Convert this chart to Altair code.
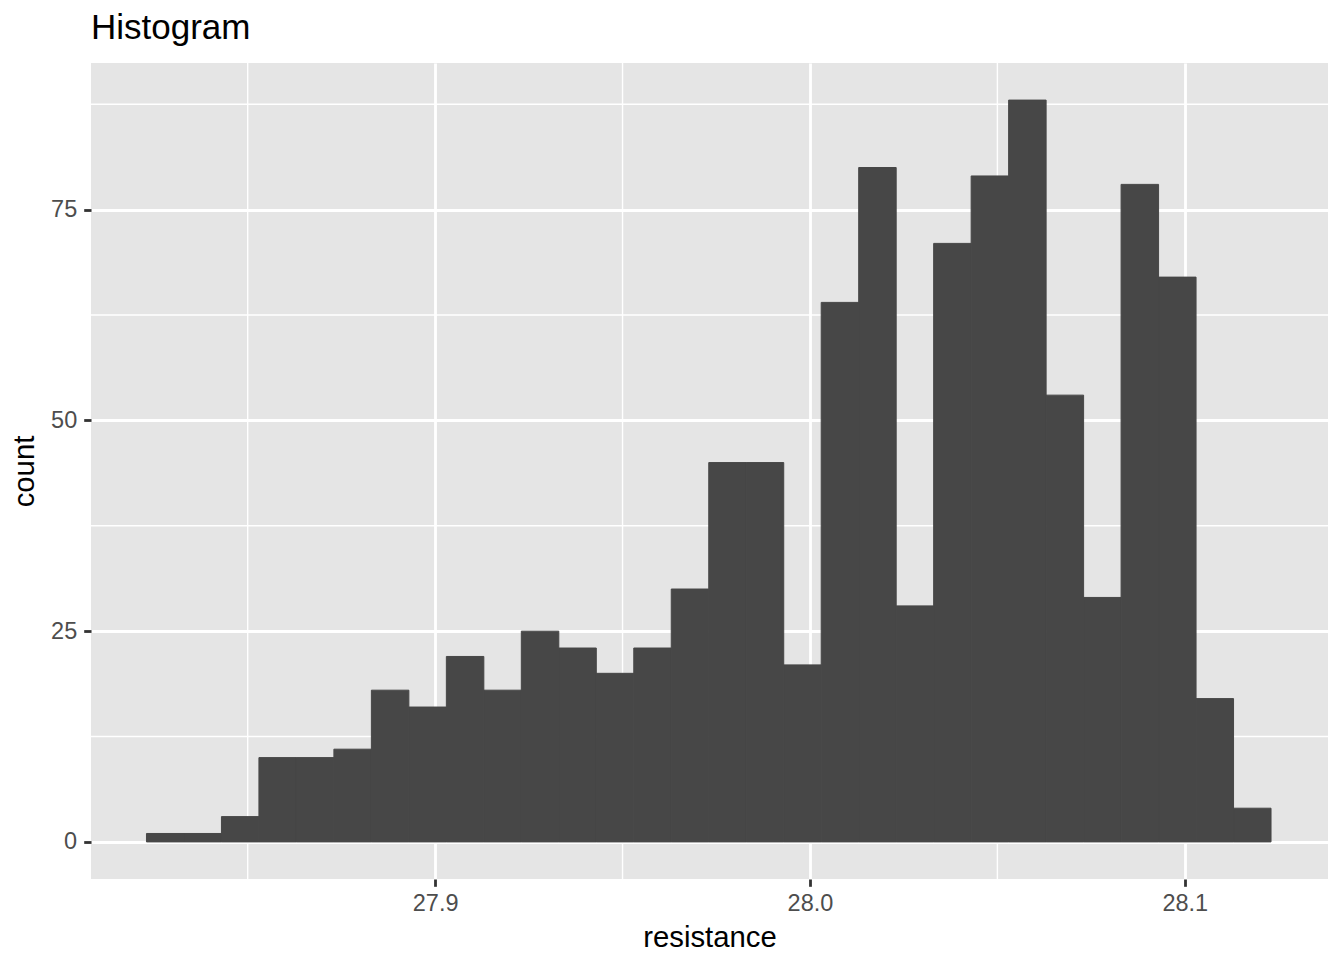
import altair as alt
import pandas as pd

# Histogram bins (left edges) and counts
bin_lo = [27.823, 27.833, 27.843, 27.853, 27.863, 27.873, 27.883, 27.893, 27.903, 27.913,
          27.923, 27.933, 27.943, 27.953, 27.963, 27.973, 27.983, 27.993, 28.003, 28.013,
          28.023, 28.033, 28.043, 28.053, 28.063, 28.073, 28.083, 28.093, 28.103, 28.113]
counts = [1, 1, 3, 10, 10, 11, 18, 16, 22, 18,
          25, 23, 20, 23, 30, 45, 45, 21, 64, 80,
          28, 71, 79, 88, 53, 29, 78, 67, 17, 4]
bin_width = 0.01

x_major = [27.9, 28.0, 28.1]
x_minor = [27.85, 27.95, 28.05]
y_major = [0, 25, 50, 75]
y_minor = [12.5, 37.5, 62.5, 87.5]

x_domain = [27.8082, 28.1382]
y_domain = [-4.4, 92.4]

W, H = 1237, 816
FONT = "Liberation Sans"
BAR = "#474747"

df = pd.DataFrame({"lo": bin_lo, "count": counts})
df["hi"] = df["lo"] + bin_width

xs = alt.Scale(domain=x_domain, nice=False, zero=False)
ys = alt.Scale(domain=y_domain, nice=False, zero=False)

x_axis = alt.Axis(title="resistance", values=x_major, format=".1f", grid=True,
                  titleBaseline="alphabetic", titleY=67)
y_axis = alt.Axis(title="count", values=y_major, grid=True,
                  titleBaseline="alphabetic", titleX=-58, titleY=H / 2, titleAngle=270)

xminor = alt.Chart(pd.DataFrame({"v": x_minor})).mark_rule(color="white", strokeWidth=1.42).encode(
    x=alt.X("v:Q", scale=xs, axis=x_axis), y=alt.value(0), y2=alt.value(H))
yminor = alt.Chart(pd.DataFrame({"v": y_minor})).mark_rule(color="white", strokeWidth=1.42).encode(
    y=alt.Y("v:Q", scale=ys, axis=y_axis), x=alt.value(0), x2=alt.value(W))

bars = alt.Chart(df).mark_rect(color=BAR, stroke=BAR, strokeWidth=1).encode(
    x=alt.X("lo:Q", scale=xs, axis=x_axis),
    x2="hi:Q",
    y=alt.Y("count:Q", scale=ys, axis=y_axis),
    y2=alt.datum(0),
)

chart = alt.layer(xminor, yminor, bars).properties(
    width=W, height=H,
    title=alt.TitleParams("Histogram", anchor="start", frame="group", font=FONT, fontSize=35,
                          fontWeight="normal", color="black", offset=16),
    autosize=alt.AutoSizeParams(type="none"),
    padding={"left": 83, "top": 55, "right": 8, "bottom": 73},
).configure_view(
    fill="#E5E5E5", stroke=None
).configure_axis(
    domain=False, tickColor="#333333", tickWidth=2.8, tickSize=7.3,
    labelColor="#4D4D4D", labelFont=FONT, labelFontSize=23.5, labelPadding=5,
    titleFont=FONT, titleFontSize=29.3, titleColor="black", titleFontWeight="normal",
    gridColor="white", gridWidth=2.8,
).configure_axisY(labelPadding=7)

chart.save("out.html", embed_options={"renderer": "svg", "actions": False})
